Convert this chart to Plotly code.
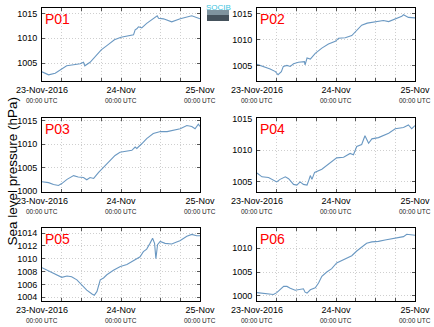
import pandas as pd
import plotly.graph_objects as go

# ---------------- data (hours since 23-Nov-2016 00:00 UTC, hPa) ----------------
hours_p01 = [0, 2, 4, 6, 7.5, 9.6, 11.6, 12.6, 13, 14.6, 16, 18, 20, 22, 24, 26, 27.8, 28.3,
             28.8, 29.3, 30.3, 31.8, 33.8, 35, 35.4, 36.9, 39.4, 42, 45.5, 48]
p01 = [1003.3, 1002.7, 1003.0, 1003.8, 1004.5, 1004.7, 1004.9, 1005.2, 1004.5, 1005.2, 1006.3,
       1007.7, 1008.7, 1009.7, 1010.2, 1010.5, 1010.7, 1011.7, 1011.9, 1012.3, 1012.1, 1013.0,
       1014.0, 1014.5, 1014.0, 1013.9, 1013.3, 1013.9, 1014.5, 1013.9]

hours_p02 = [0, 2, 4, 5.6, 6.4, 7.4, 8, 9.1, 10.1, 11.1, 12.6, 14.4, 14.6, 15.2, 16.2, 17.7,
             19.7, 21.7, 23.8, 24.8, 26.8, 28.8, 30.3, 31.8, 33.5, 36, 38.4, 40, 42, 44, 44.5,
             46, 48]
p02 = [1005.3, 1004.9, 1004.4, 1003.9, 1003.3, 1003.9, 1004.9, 1005.1, 1004.9, 1005.4, 1005.7,
       1005.8, 1005.2, 1006.5, 1006.3, 1007.4, 1008.4, 1009.2, 1009.7, 1010.3, 1010.4, 1010.8,
       1011.7, 1012.8, 1013.2, 1013.4, 1013.7, 1013.5, 1014.0, 1014.5, 1014.8, 1014.3, 1014.2]

hours_p03 = [0, 2, 3.5, 5, 6, 7.6, 9.6, 11, 12.6, 13.6, 14.6, 15.7, 17.2, 18.7, 20.7, 22.2,
             23.7, 25.3, 27.3, 28.3, 28.8, 30.3, 31.8, 33.8, 36, 38, 40, 42, 44, 45.5, 46.5,
             47.5, 48]
p03 = [1002.0, 1001.8, 1001.4, 1001.2, 1001.6, 1002.5, 1003.3, 1003.0, 1002.9, 1002.4, 1002.9,
       1002.7, 1004.0, 1005.1, 1006.5, 1007.6, 1008.3, 1008.5, 1008.7, 1009.4, 1009.1, 1010.1,
       1011.2, 1012.3, 1012.7, 1012.7, 1013.0, 1013.3, 1014.0, 1013.8, 1013.3, 1014.3, 1013.8]

hours_p04 = [0, 1.5, 3.5, 5, 6, 7, 8.6, 9.6, 11.1, 12.1, 13.1, 14.1, 15.2, 15.7, 16.2, 16.7,
             17.5, 19.7, 21.7, 24.2, 26.3, 28.3, 29.3, 30.3, 31.8, 32.8, 33.9, 34.9, 36.9,
             38.4, 40, 42, 44.5, 46, 47, 48]
p04 = [1006.4, 1005.8, 1005.7, 1005.3, 1005.0, 1005.4, 1005.8, 1005.5, 1004.6, 1004.5, 1005.0,
       1004.6, 1004.5, 1005.2, 1006.0, 1005.4, 1006.5, 1007.0, 1007.8, 1008.8, 1008.9, 1009.5,
       1009.3, 1010.6, 1010.9, 1012.3, 1011.1, 1011.8, 1012.0, 1012.3, 1012.7, 1013.4, 1013.6,
       1014.0, 1013.4, 1013.9]

hours_p05 = [0, 2, 4, 6, 7.6, 9, 10.6, 12.1, 13.6, 15.2, 15.9, 16.7, 17.2, 17.7, 18.7, 19.7,
             21.7, 23.8, 25.8, 27.8, 28.8, 29.8, 30.8, 31.8, 32.8, 33.6, 34.2, 34.6, 35.1, 35.9,
             37.4, 39.4, 40.9, 41.9, 44, 45.5, 47, 48]
p05 = [1008.6, 1008.1, 1007.6, 1007.1, 1007.3, 1007.2, 1006.7, 1005.9, 1005.1, 1004.5, 1004.3,
       1004.9, 1005.9, 1006.7, 1007.0, 1007.5, 1008.2, 1008.8, 1009.1, 1009.7, 1010.1, 1010.3,
       1011.1, 1011.5, 1012.4, 1013.2, 1012.4, 1010.0, 1012.2, 1012.7, 1012.4, 1012.3, 1012.6,
       1012.8, 1013.5, 1013.8, 1013.6, 1013.6]

hours_p06 = [0, 2, 4, 5, 6, 7, 8.1, 9.1, 10.1, 11.6, 13.1, 14.1, 14.6, 15.2, 16.2, 17.7, 18.7,
             19.7, 21.2, 22.7, 24.2, 26.3, 28.8, 30.3, 31.8, 33.3, 34.9, 36.9, 38.9, 40.9,
             42.9, 44.5, 45.5, 47, 48]
p06 = [1000.7, 1000.6, 1000.5, 1000.3, 1000.7, 1001.3, 1002.0, 1002.0, 1001.6, 1001.2, 1001.3,
       1001.5, 1000.8, 1000.6, 1001.3, 1001.7, 1002.7, 1004.1, 1005.0, 1005.7, 1006.9, 1007.6,
       1008.4, 1009.4, 1010.3, 1011.0, 1011.3, 1011.4, 1011.7, 1012.0, 1012.2, 1012.4, 1012.9,
       1012.8, 1012.7]

station_names = ["P01", "P02", "P03", "P04", "P05", "P06"]
tick_dates = ["2016-11-23", "2016-11-24", "2016-11-25"]
tick_main = ["23-Nov-2016", "24-Nov", "25-Nov"]
tick_sub = "00:00 UTC"
y_title = "Sea level pressure (hPa)"

series = [(hours_p01, p01), (hours_p02, p02), (hours_p03, p03),
          (hours_p04, p04), (hours_p05, p05), (hours_p06, p06)]

# ---------------- layout ----------------
W, H = 434, 327
base = pd.Timestamp("2016-11-23 00:00")
col_x = [(42, 200), (257, 415)]
row_y = [(8, 81), (118, 192), (228, 301)]
y_ranges = [(1001.46, 1016.07), (1002.1, 1016.1), (999.8, 1015.6),
            (1003.4, 1015.1), (1003.4, 1014.8), (998.95, 1014.2)]
y_dticks = [5, 5, 5, 5, 2, 5]

LINE = "#6a98c2"
GRID = "#cfcfcf"
DOT = "1px,2px"
FONT = "Liberation Sans, Arial, sans-serif"

fig = go.Figure()

layout = dict(
    width=W, height=H, margin=dict(l=0, r=0, t=0, b=0, autoexpand=False),
    paper_bgcolor="white", plot_bgcolor="white", showlegend=False,
    font=dict(family=FONT, size=9, color="black"),
)

annotations = []
for i, ((hrs, vals), name) in enumerate(zip(series, station_names)):
    r, c = divmod(i, 2)
    x0, x1 = col_x[c]
    y0, y1 = row_y[r]
    k = "" if i == 0 else str(i + 1)
    times = [base + pd.Timedelta(hours=h) for h in hrs]
    fig.add_trace(go.Scatter(x=times, y=vals, mode="lines",
                             line=dict(color=LINE, width=1.1),
                             xaxis="x" + k, yaxis="y" + k, hoverinfo="skip"))
    layout["xaxis" + k] = dict(
        domain=[x0 / W, x1 / W], anchor="y" + k, type="date", automargin=False,
        range=["2016-11-23 00:00", "2016-11-25 00:00"],
        tickmode="array", tickvals=tick_dates, ticktext=tick_main,
        ticks="inside", ticklen=3, tickcolor="#555", showline=True, linecolor="black",
        linewidth=1, mirror="ticks", showgrid=True, gridcolor=GRID, griddash=DOT,
        gridwidth=1, zeroline=False, tickfont=dict(size=9, family=FONT),
        minor=dict(dtick=6 * 3600 * 1000, tick0="2016-11-23", showgrid=True,
                   gridcolor=GRID, griddash=DOT, ticks="inside", ticklen=3,
                   tickcolor="#555"),
    )
    layout["yaxis" + k] = dict(
        domain=[1 - y1 / H, 1 - y0 / H], anchor="x" + k, automargin=False,
        range=list(y_ranges[i]), dtick=y_dticks[i], tick0=1000,
        ticks="inside", ticklen=3, tickcolor="#555", showline=True, linecolor="black",
        linewidth=1, mirror="ticks", showgrid=True, gridcolor=GRID, griddash=DOT,
        zeroline=False, tickfont=dict(size=9, family=FONT), ticklabelstandoff=2,
    )
    annotations.append(dict(text=name, xref="paper", yref="paper",
                            x=(x0 + 1) / W, y=1 - (y0 + 0.5) / H,
                            xanchor="left", yanchor="top", showarrow=False,
                            font=dict(size=14, color="red", family=FONT)))
    for d in tick_dates:
        annotations.append(dict(text=tick_sub, xref="x" + k, yref="paper",
                                x=d, y=1 - (y1 + 14) / H, xanchor="center",
                                yanchor="top", showarrow=False,
                                font=dict(size=6.5, family=FONT, color="#222")))

annotations.append(dict(text=y_title, xref="paper", yref="paper", x=2 / W, y=1 - 171 / H,
                        textangle=-90, xanchor="left", yanchor="middle", showarrow=False,
                        font=dict(size=13.5, family=FONT, color="black")))
annotations.append(dict(text="SOCIB", xref="paper", yref="paper", x=218 / W, y=1 - 1 / H,
                        xanchor="center", yanchor="top", showarrow=False,
                        font=dict(size=8, family=FONT, color="#3ec4de")))
layout["annotations"] = annotations
layout["shapes"] = [
    dict(type="rect", xref="paper", yref="paper", x0=207 / W, x1=229 / W,
         y0=1 - 21 / H, y1=1 - 15 / H, fillcolor="#45525c", line=dict(width=0)),
    dict(type="rect", xref="paper", yref="paper", x0=207 / W, x1=229 / W,
         y0=1 - 15 / H, y1=1 - 10 / H, fillcolor="#7f939e", line=dict(width=0)),
]
fig.update_layout(**layout)
fig.write_html("out.html")
